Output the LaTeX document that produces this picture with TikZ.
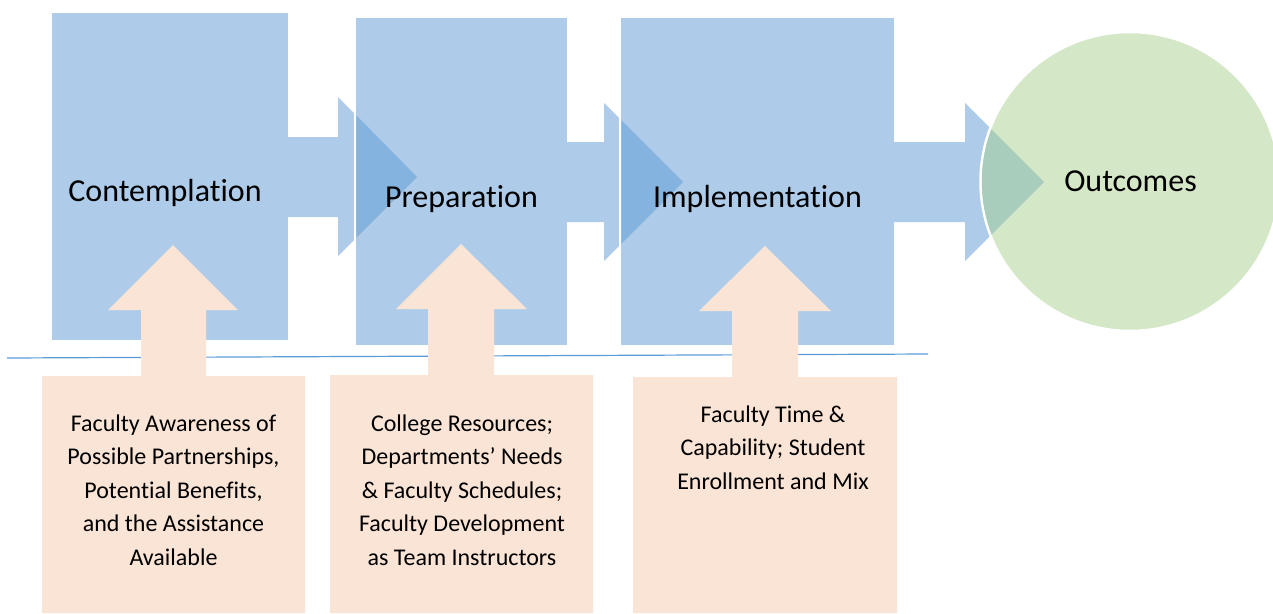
\documentclass[tikz,border=0pt]{standalone}
\usepackage{fontspec}
\setmainfont{Carlito}[Ligatures=NoCommon]
\definecolor{stageblue}{HTML}{AECCEA}
\definecolor{stagedark}{HTML}{84B3DF}
\definecolor{factorpeach}{HTML}{FAE4D6}
\definecolor{outgreen}{HTML}{D4E7C7}
\definecolor{outdark}{HTML}{A9CDBC}
\definecolor{rulecol}{HTML}{5B9BD5}
\tikzset{
  stagebox/.style={rectangle, fill=stageblue, draw=white, line width=2.5pt, inner sep=0pt},
  flowarrow/.style={fill=stageblue},
  flowoverlap/.style={fill=stagedark},
  factorarrow/.style={fill=factorpeach},
  stagetitle/.style={font=\fontsize{32}{38}\selectfont, inner sep=0pt},
  factortext/.style={font=\fontsize{24}{33.6}\selectfont, align=center, inner sep=0pt},
}
\begin{document}
\begin{tikzpicture}[x=1pt, y=-1pt]
\useasboundingbox (0,0) rectangle (1273,613);

% stage boxes, each followed by the block arrow that leaves it
\node[stagebox, minimum width=238pt, minimum height=329pt] (contemp) at (170,176.5) {};
\fill[flowarrow] (287,137) -- (338,137) -- (338,97) -- (417,177) -- (338,256) -- (338,217) -- (287,217) -- cycle;
\node[stagebox, minimum width=213pt, minimum height=329pt] (prep) at (461.5,181.5) {};
\fill[flowarrow] (566.5,142) -- (604,142) -- (604,103) -- (683,182) -- (604,261) -- (604,222) -- (566.5,222) -- cycle;
\node[stagebox, minimum width=275pt, minimum height=329pt] (impl) at (757.5,181.5) {};
\fill[flowarrow] (893.5,142) -- (965,142) -- (965,103) -- (1044,182) -- (965,261) -- (965,222) -- (893.5,222) -- cycle;

% arrow heads where they lie over the next box
\fill[flowoverlap] (356.3,115.3) -- (417,177) -- (356.3,237.7) -- cycle;
\fill[flowoverlap] (621.3,120.3) -- (683,182) -- (621.3,243.7) -- cycle;

% outcome circle
\node[circle, fill=outgreen, draw=white, line width=2.5pt, minimum size=299pt, inner sep=0pt] (outc) at (1130,181.5) {};
\begin{scope}
  \clip (1130,181.5) circle (148.2pt);
  \fill[fill=outdark] (965,103) -- (1044,182) -- (965,261) -- cycle;
\end{scope}

% separating rule
\coordinate (ruleL) at (7,358);
\coordinate (ruleR) at (928,354);
\draw[rulecol, line width=1.2pt] (ruleL) -- (ruleR);

% influencing factors: box with an upward block arrow
\fill[factorarrow] (42,613) -- (42,376) -- (141,376) -- (141,310) -- (108,310) -- (173,245) -- (238,310) -- (206,310) -- (206,376) -- (305,376) -- (305,613) -- cycle;
\fill[factorarrow] (330,613) -- (330,375) -- (428,375) -- (428,309) -- (396,309) -- (461,244) -- (527,309) -- (494,309) -- (494,375) -- (593,375) -- (593,613) -- cycle;
\fill[factorarrow] (633,613) -- (633,377) -- (732,377) -- (732,311) -- (699,311) -- (765,246) -- (831,311) -- (798,311) -- (798,377) -- (897,377) -- (897,613) -- cycle;

% titles
\node[stagetitle] (t1) at (165,193) {Contemplation};
\node[stagetitle] (t2) at (461.5,199) {Preparation};
\node[stagetitle] (t3) at (757.5,199) {Implementation};
\node[stagetitle] (t4) at (1130.5,181) {Outcomes};

% factor texts
\node[factortext] (f1) at (173.5,490) {Faculty Awareness of\\Possible Partnerships,\\Potential Benefits,\\and the Assistance\\Available};
\node[factortext] (f2) at (462,490) {College Resources;\\Departments’ Needs\\\& Faculty Schedules;\\Faculty Development\\as Team Instructors};
\node[factortext] (f3) at (773,447.5) {Faculty Time \&\\Capability; Student\\Enrollment and Mix};
\end{tikzpicture}
\end{document}
